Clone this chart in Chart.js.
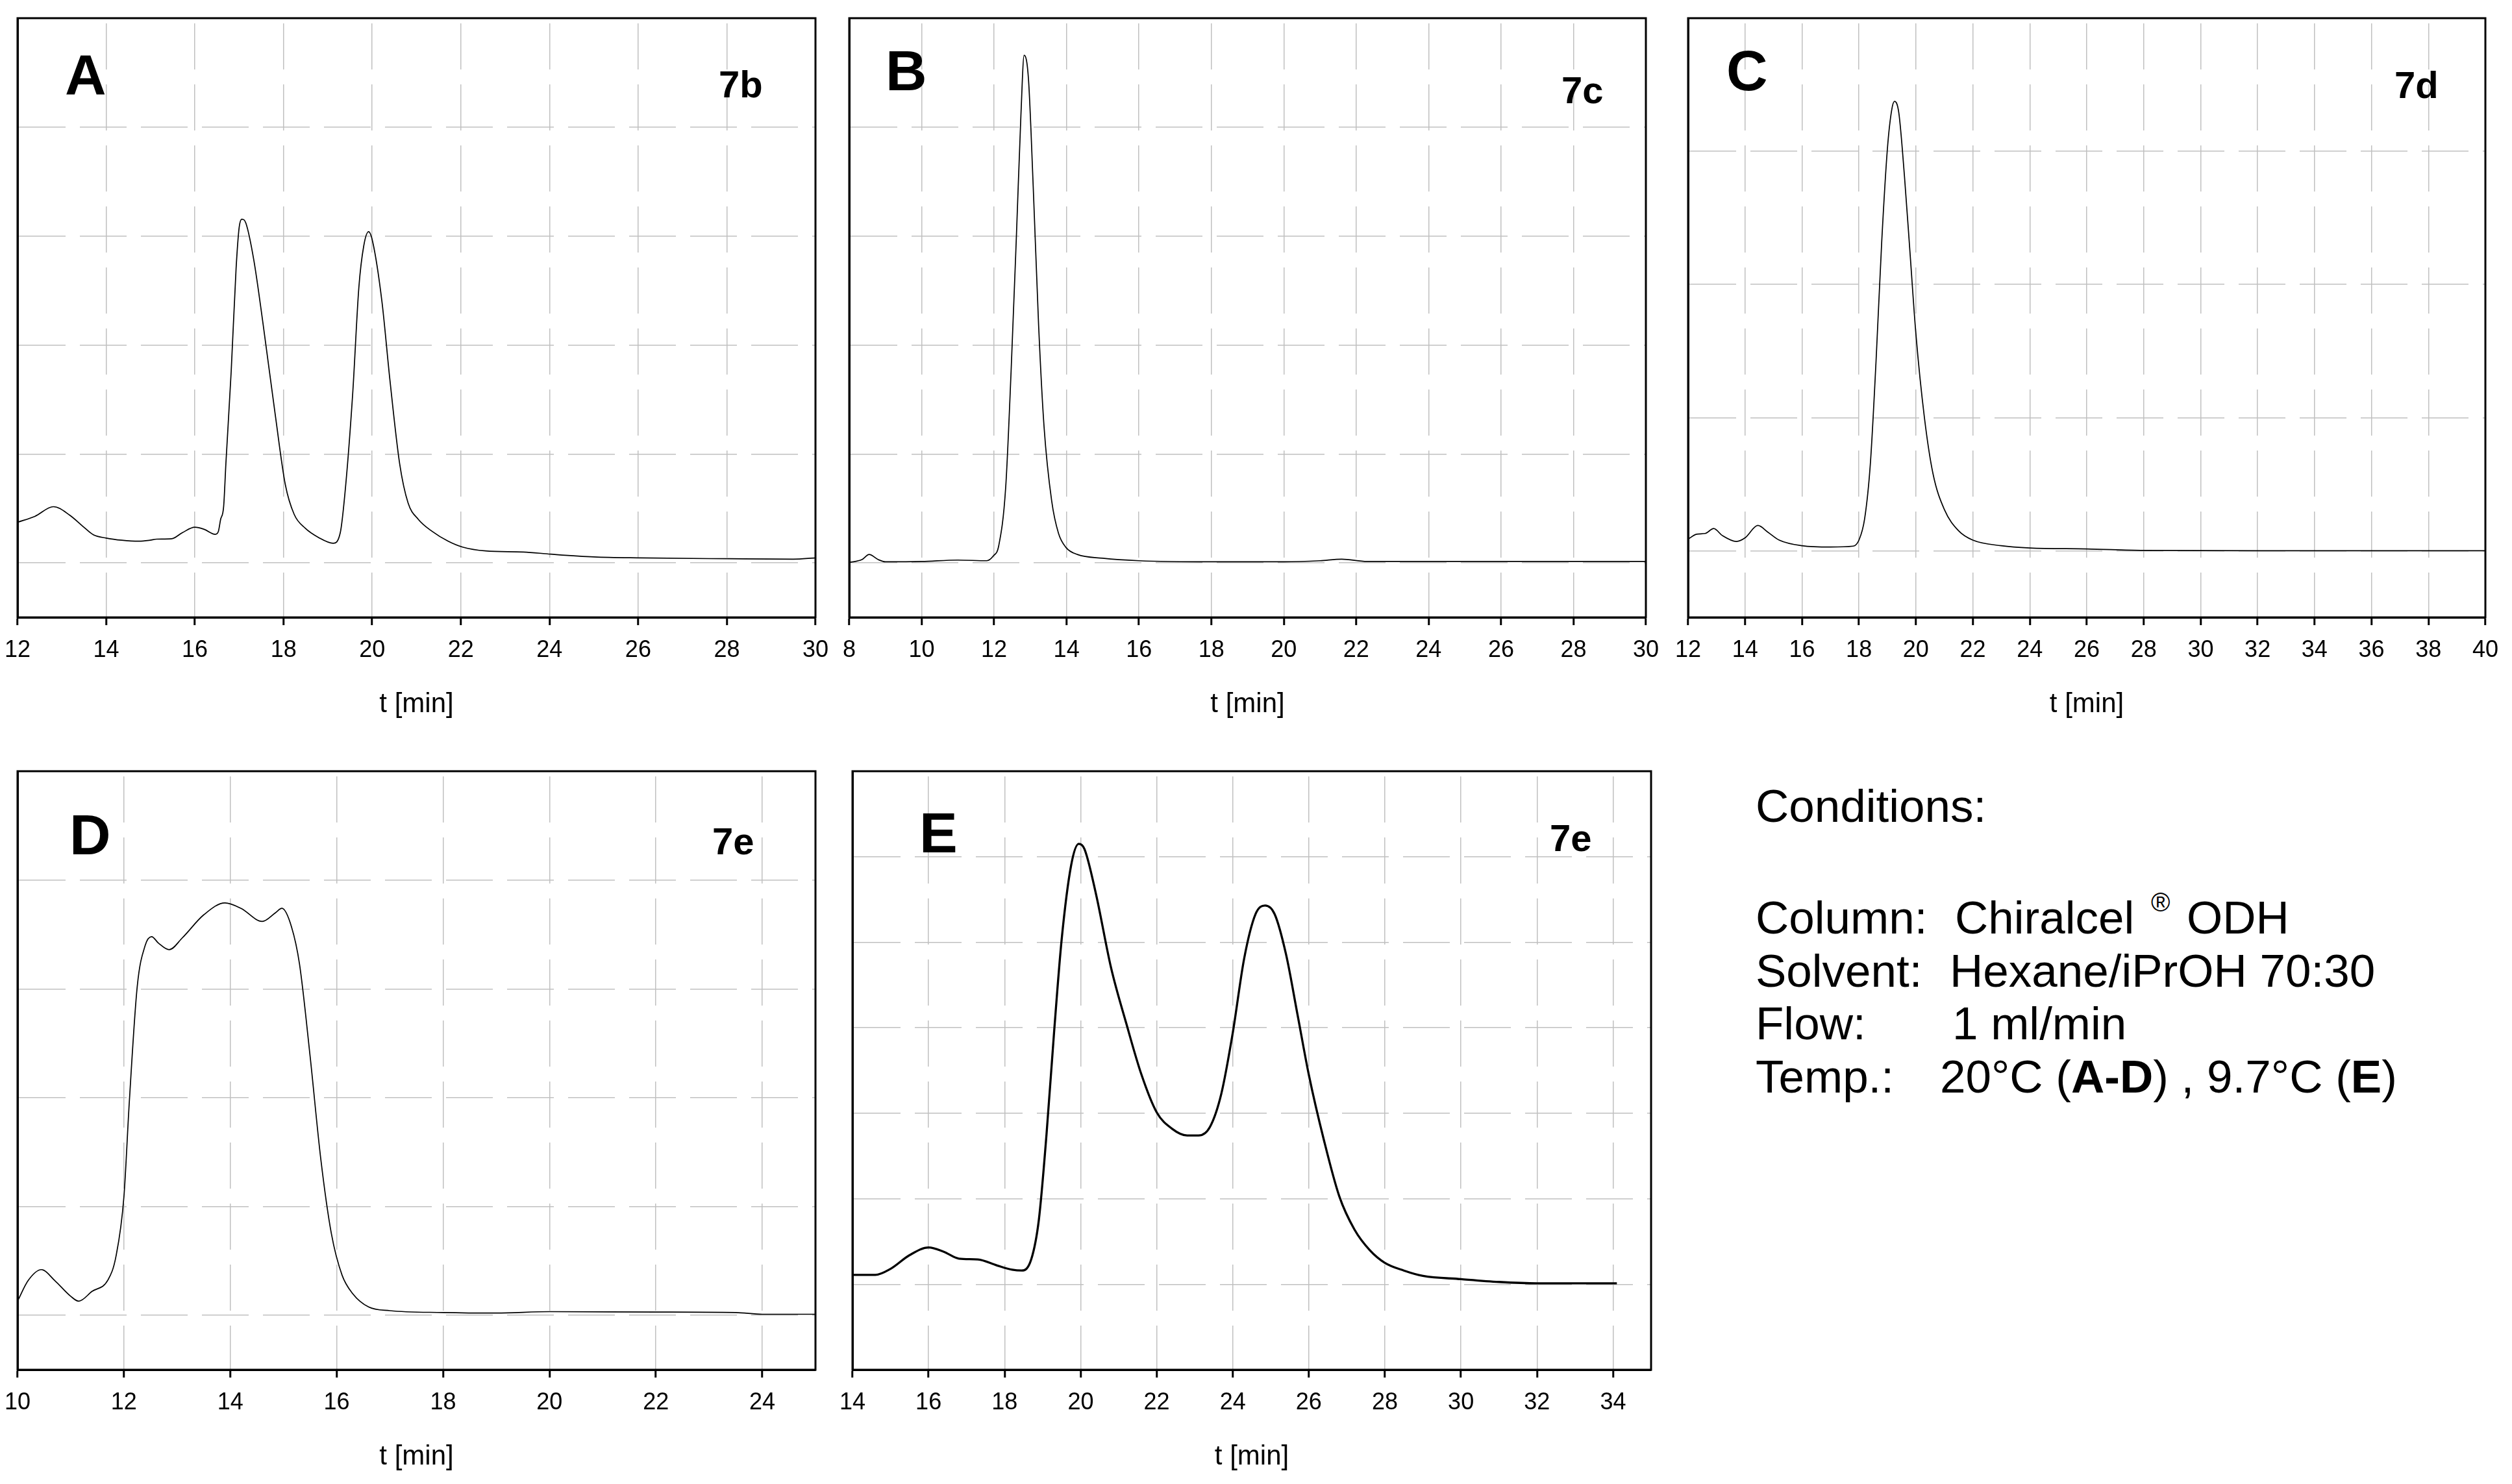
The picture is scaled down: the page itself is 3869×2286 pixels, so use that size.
<!DOCTYPE html>
<html><head><meta charset="utf-8">
<script src="https://cdn.jsdelivr.net/npm/chart.js@4.4.1/dist/chart.umd.min.js"></script>
<style>
html,body{margin:0;padding:0;background:#fff;}
body{width:3869px;height:2286px;position:relative;overflow:hidden;font-family:'Liberation Sans',Arial,sans-serif;}
.t{position:absolute;white-space:pre;line-height:1;color:#000;font-family:'Liberation Sans',Arial,sans-serif;}
canvas{position:absolute;}
</style></head><body>
<script>
// ---------- DATA ----------
// Panel A (7b)
const tA = [12.0,12.39,12.81,13.18,13.47,13.71,14.0,14.35,14.74,14.99,15.14,15.48,15.72,16.0,16.21,16.46,16.53,16.58,16.65,16.70,16.82,16.93,17.0,17.06,17.15,17.33,17.54,17.82,18.04,18.24,18.49,18.79,19.12,19.28,19.40,19.56,19.70,19.81,19.92,20.01,20.22,20.40,20.62,20.81,21.04,21.35,21.71,22.04,22.56,23.41,24.03,25.0,26.04,28.05,29.5,30.0];
const sA = [0.373,0.427,0.516,0.437,0.337,0.258,0.228,0.208,0.199,0.208,0.218,0.222,0.278,0.327,0.308,0.262,0.288,0.397,0.52,0.91,1.76,2.70,3.08,3.155,3.12,2.78,2.19,1.34,0.72,0.446,0.318,0.233,0.18,0.276,0.70,1.55,2.53,2.91,3.04,2.95,2.40,1.68,0.91,0.55,0.40,0.29,0.20,0.145,0.11,0.10,0.08,0.055,0.046,0.038,0.034,0.046];
const xTicksA = [12,14,16,18,20,22,24,26,28,30];
const yTicksA = [0,1,2,3,4,5];

// Panel B (7c)
const tB = [8.0,8.35,8.55,8.8,9.0,10.0,11.0,11.8,11.98,12.13,12.32,12.47,12.62,12.74,12.83,12.95,13.08,13.23,13.38,13.59,13.78,13.99,14.3,15.0,16.0,18.0,20.0,21.0,21.6,22.3,24.0,30.0];
const sB = [0.004,0.03,0.077,0.03,0.01,0.013,0.026,0.02,0.064,0.16,0.69,1.76,3.03,4.10,4.66,4.44,3.46,2.18,1.25,0.57,0.27,0.14,0.077,0.043,0.02,0.01,0.01,0.02,0.034,0.013,0.013,0.013];
const xTicksB = [8,10,12,14,16,18,20,22,24,26,28,30];
const yTicksB = [0,1,2,3,4,5];

// Panel C (7d)
const tC = [12.0,12.3,12.6,12.9,13.2,13.7,14.0,14.45,14.8,15.2,16.0,17.0,17.8,18.0,18.2,18.4,18.6,18.8,19.0,19.15,19.25,19.4,19.6,19.8,20.0,20.3,20.6,21.0,21.5,22.0,23.0,24.0,26.0,28.0,32.0,40.0];
const sC = [0.087,0.125,0.13,0.167,0.115,0.07,0.097,0.19,0.14,0.08,0.038,0.028,0.035,0.08,0.24,0.65,1.42,2.32,3.02,3.31,3.375,3.29,2.81,2.22,1.63,1.0,0.58,0.31,0.15,0.08,0.038,0.021,0.014,0.003,0.0,0.0];
const xTicksC = [12,14,16,18,20,22,24,26,28,30,32,34,36,38,40];
const yTicksC = [0,1,2,3,4];

// Panel D (7e, 20 °C)
const tD = [10.0,10.2,10.45,10.7,11.0,11.15,11.4,11.7,11.85,12.0,12.1,12.25,12.4,12.52,12.65,12.85,13.1,13.5,13.9,14.2,14.6,14.85,14.97,15.15,15.3,15.5,15.7,15.9,16.1,16.3,16.6,17.0,18.0,19.0,20.0,22.0,23.5,24.0,25.0];
const sD = [0.13,0.32,0.42,0.32,0.175,0.13,0.22,0.325,0.54,1.09,1.95,3.02,3.40,3.48,3.42,3.36,3.47,3.68,3.79,3.74,3.62,3.70,3.74,3.57,3.23,2.38,1.44,0.75,0.37,0.20,0.077,0.043,0.026,0.021,0.034,0.03,0.026,0.01,0.01];
const xTicksD = [10,12,14,16,18,20,22,24];
const yTicksD = [0,1,2,3,4,5];

// Panel E (7e, 9.7 °C)
const tE = [14.0,14.6,15.0,15.5,16.0,16.4,16.8,17.3,17.8,18.2,18.45,18.7,18.9,19.1,19.3,19.5,19.75,19.95,20.1,20.4,20.8,21.2,21.6,22.0,22.4,22.8,23.1,23.4,23.7,24.0,24.3,24.6,24.85,25.1,25.4,25.7,26.0,26.4,26.8,27.2,27.6,28.0,28.5,29.0,30.0,31.0,32.0,34.1];
const sE = [0.11,0.11,0.18,0.34,0.43,0.38,0.30,0.29,0.22,0.17,0.16,0.29,0.75,1.74,2.94,4.03,4.9,5.15,5.09,4.57,3.70,3.05,2.45,2.01,1.82,1.74,1.74,1.84,2.23,2.94,3.81,4.33,4.43,4.33,3.86,3.16,2.45,1.68,1.03,0.64,0.40,0.25,0.16,0.098,0.06,0.027,0.011,0.011];
const xTicksE = [14,16,18,20,22,24,26,28,30,32,34];
const yTicksE = [0,1,2,3,4,5,6];

// ---------- RENDERING ----------
const FONT = "'Liberation Sans', Arial, sans-serif";

const framePlugin = {
  id: 'frame',
  afterDraw(chart) {
    const {ctx, chartArea: a} = chart;
    ctx.save();
    ctx.strokeStyle = '#000';
    ctx.lineWidth = 3;
    ctx.setLineDash([]);
    ctx.strokeRect(a.left, a.top, a.right - a.left, a.bottom - a.top);
    ctx.restore();
  }
};

function makePanel(frame, t, s, xMin, xMax, xTicks, yMin, yMax, yTicks, lineW) {
  const padL = 40, padT = 20, padR = 50, H = 160, padB = 10;
  const w = frame.R - frame.L + padL + padR;
  const h = frame.B - frame.T + padT + H + padB;
  const canvas = document.createElement('canvas');
  canvas.width = w; canvas.height = h;
  canvas.style.left = (frame.L - padL) + 'px';
  canvas.style.top = (frame.T - padT) + 'px';
  canvas.style.width = w + 'px';
  canvas.style.height = h + 'px';
  document.body.appendChild(canvas);
  new Chart(canvas, {
    type: 'line',
    data: {
      datasets: [{
        data: t.map((x, i) => ({x: x, y: s[i]})),
        borderColor: '#000',
        borderWidth: lineW,
        pointRadius: 0,
        cubicInterpolationMode: 'monotone',
        fill: false
      }]
    },
    options: {
      responsive: false,
      animation: false,
      devicePixelRatio: 1,
      layout: {padding: {left: padL, top: padT, right: padR, bottom: padB}},
      plugins: {legend: {display: false}, tooltip: {enabled: false}},
      scales: {
        x: {
          type: 'linear', min: xMin, max: xMax,
          afterBuildTicks: sc => { sc.ticks = xTicks.map(v => ({value: v})); },
          afterFit: sc => { sc.height = H; sc.paddingLeft = 0; sc.paddingRight = 0; },
          ticks: {font: {family: FONT, size: 36}, color: '#000', padding: 17, maxRotation: 0, autoSkip: false, callback: v => String(v)},
          grid: {color: '#c0c0c0', lineWidth: 1.5, drawTicks: true, tickLength: 12, tickColor: '#000', tickWidth: 3},
          border: {display: true, color: '#000', width: 3, dash: [71, 23], dashOffset: 86},
          title: {display: true, text: 't [min]', font: {family: FONT, size: 42}, color: '#000', padding: 0}
        },
        y: {
          type: 'linear', min: yMin, max: yMax,
          afterBuildTicks: sc => { sc.ticks = yTicks.map(v => ({value: v})); },
          afterFit: sc => { sc.width = 0; sc.paddingTop = 0; sc.paddingBottom = 0; },
          ticks: {display: false},
          grid: {color: '#c0c0c0', lineWidth: 1.5, drawTicks: false},
          border: {display: true, color: '#000', width: 3, dash: [72, 22], dashOffset: 0}
        }
      }
    },
    plugins: [framePlugin]
  });
}

makePanel({L: 27, T: 28, R: 1256, B: 951}, tA, sA, 12, 30, xTicksA, -0.5, 5, yTicksA, 1.7);
makePanel({L: 1308, T: 28, R: 2535, B: 951}, tB, sB, 8, 30, xTicksB, -0.5, 5, yTicksB, 1.7);
makePanel({L: 2600, T: 28, R: 3828, B: 951}, tC, sC, 12, 40, xTicksC, -0.5, 4, yTicksC, 1.7);
makePanel({L: 27, T: 1188, R: 1256, B: 2110}, tD, sD, 10, 25, xTicksD, -0.5, 5, yTicksD, 1.7);
makePanel({L: 1313, T: 1188, R: 2543, B: 2110}, tE, sE, 14, 35, xTicksE, -1, 6, yTicksE, 3.3);

function txt(s, left, baseline, size, bold, html) {
  const d = document.createElement('div');
  d.className = 't';
  d.style.left = left + 'px';
  d.style.top = (baseline - 0.8465 * size) + 'px';
  d.style.fontSize = size + 'px';
  if (bold) d.style.fontWeight = 'bold';
  if (html) d.innerHTML = s; else d.textContent = s;
  document.body.appendChild(d);
}

// panel letters
txt('A', 100, 145, 88, true);
txt('B', 1364, 139, 88, true);
txt('C', 2659, 139, 88, true);
txt('D', 107, 1316, 88, true);
txt('E', 1416, 1313, 88, true);
// compound labels
txt('7b', 1107, 150, 58, true);
txt('7c', 2405, 159, 58, true);
txt('7d', 3688, 151, 58, true);
txt('7e', 1097, 1316, 58, true);
txt('7e', 2387, 1311, 58, true);

// conditions
txt('Conditions:', 2704, 1266, 71, false);
txt('Column:', 2704, 1438, 71, false);
txt('Chiralcel', 3011, 1438, 71, false);
txt('\u00AE', 3313, 1404, 40, false);
txt('ODH', 3368, 1438, 71, false);
txt('Solvent:', 2704, 1520, 71, false);
txt('Hexane/iPrOH 70:30', 3003, 1520, 71, false);
txt('Flow:', 2704, 1601, 71, false);
txt('1 ml/min', 3007, 1601, 71, false);
txt('Temp.:', 2704, 1683, 71, false);
txt('20\u00B0C (<b>A-D</b>) , 9.7\u00B0C (<b>E</b>)', 2988, 1683, 71, false, true);
</script>
</body></html>
